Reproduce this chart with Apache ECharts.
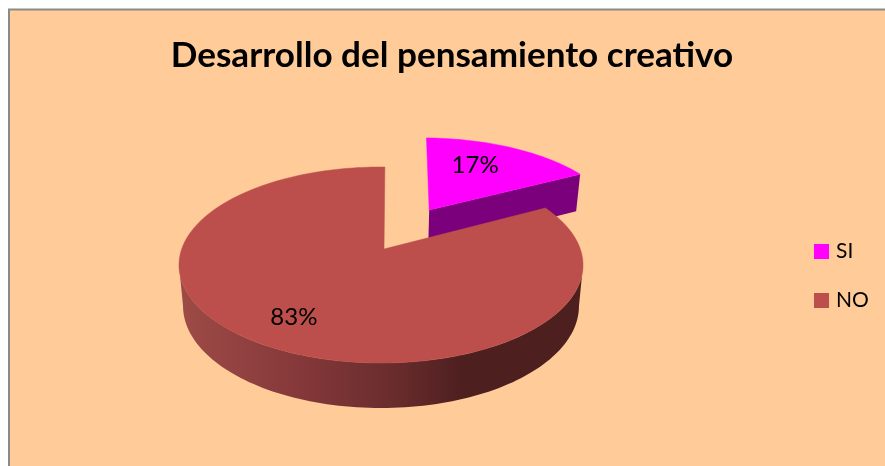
<!DOCTYPE html>
<html>
<head>
<meta charset="utf-8">
<style>html,body{margin:0;padding:0;background:#fff}#c{width:885px;height:466px}</style>
<script src="https://cdn.jsdelivr.net/npm/echarts@6/dist/echarts.min.js"></script>
</head>
<body>
<div id="c"></div>
<script>
const titleText = 'Desarrollo del pensamiento creativo';
const categories = ['SI', 'NO'];
const values = [17, 83];
const colors = ['#FF00FF', '#BC4F4C'];

// Perspective model of the pie disc
const P = {x0: 381, y0: 249, rx: 199.3, a: 95.4, k: 0.1633, startDeg: 1.3};
const explode = [{du: 0.259, dv: -0.438}, {du: 0, dv: 0}];
const labelStyle = [{r: 0.66, dx: -10, dy: -2}, {r: 0.75, dx: 1, dy: 0}];
const apexShift = [0, 3];
const total = values.reduce((s, v) => s + v, 0);

function project(u, v) {
  const s = 1 / (1 - P.k * v);
  return [P.x0 + P.rx * u * s, P.y0 + P.a * v * s];
}
function lower(p) { // the same point on the bottom face
  return [P.x0 + (p[0] - P.x0) * 0.98, p[1] + 37 + (p[1] - 172) * 0.042];
}
function discPoint(deg, r, e) {
  const t = deg * Math.PI / 180;
  return project(e.du + r * Math.sin(t), e.dv - r * Math.cos(t));
}
function arc(from, to, e) {
  const pts = [], n = Math.ceil(Math.abs(to - from) / 1.5);
  for (let i = 0; i <= n; i++) pts.push(discPoint(from + (to - from) * i / n, 1, e));
  return pts;
}

function renderSlice(index) {
  return function (params, api) {
    const val = api.value(0);
    let before = 0;
    for (let i = 0; i < index; i++) before += values[i];
    const a0 = P.startDeg + before / total * 360;
    const a1 = a0 + val / total * 360;
    const e = explode[index];
    const apex = discPoint(0, 0, e);
    apex[0] += apexShift[index];
    const outer = arc(a0, a1, e);
    const children = [];

    if (index === 0) {
      const c = outer[outer.length - 1];
      children.push({type: 'polygon', shape: {points: [apex, c, lower(c), lower(apex)]},
        style: {fill: '#7B007B'}});
    } else {
      // visible wall runs between the two widest points of the disc
      const widest = Math.acos(-P.k) * 180 / Math.PI;
      const front = arc(widest, 360 - widest, e);
      const rim = front.concat(front.map(lower).reverse());
      children.push({type: 'polygon', shape: {points: rim},
        style: {fill: new echarts.graphic.LinearGradient(0, 0, 1, 0, [
          {offset: 0, color: '#9E4B46'},
          {offset: 0.3, color: '#85383A'},
          {offset: 0.55, color: '#672B2C'},
          {offset: 0.7, color: '#4E1F1F'},
          {offset: 1, color: '#4E1F1F'}
        ])}});
    }
    children.push({type: 'polygon', shape: {points: [apex].concat(outer)},
      style: {fill: colors[index], stroke: colors[index], lineWidth: 0.5}});

    const ls = labelStyle[index];
    const lp = discPoint((a0 + a1) / 2, ls.r, e);
    children.push({type: 'text', style: {
      text: Math.round(val / total * 100) + '%',
      x: lp[0] + ls.dx, y: lp[1] + ls.dy,
      align: 'center', verticalAlign: 'middle',
      fontFamily: 'Lato', fontSize: 24, fill: '#000'
    }});
    return {type: 'group', children};
  };
}

const chart = echarts.init(document.getElementById('c'), null, {renderer: 'canvas'});
chart.setOption({
  animation: false,
  backgroundColor: '#FFFFFF',
  graphic: [{
    type: 'rect', z: -10, silent: true,
    shape: {x: 9, y: 9.5, width: 900, height: 480},
    style: {fill: '#FFCC99', stroke: '#8A8A86', lineWidth: 2}
  }],
  title: {
    text: titleText, left: 447, top: 33, textAlign: 'center',
    textStyle: {fontFamily: 'Lato', fontWeight: 'bold', fontSize: 35.1, color: '#000'}
  },
  legend: {
    orient: 'vertical', left: 814, top: 241, padding: 0,
    itemWidth: 15, itemHeight: 15, itemGap: 28,
    icon: 'rect', data: categories,
    selectedMode: false,
    textStyle: {fontFamily: 'Lato', fontSize: 21, color: '#000', padding: [0, 0, 0, 2]}
  },
  series: categories.map((name, i) => ({
    type: 'custom', name,
    coordinateSystem: 'none',
    silent: true,
    itemStyle: {color: colors[i]},
    renderItem: renderSlice(i),
    data: [[values[i]]]
  }))
});
</script>
</body>
</html>
